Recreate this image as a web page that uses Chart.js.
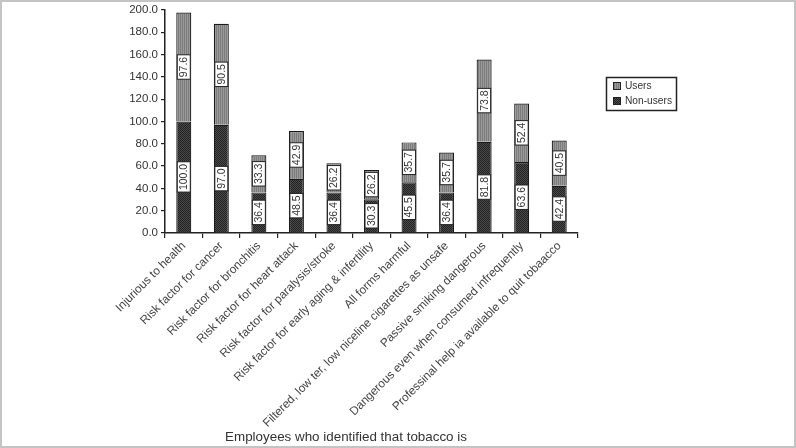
<!DOCTYPE html>
<html>
<head>
<meta charset="utf-8">
<script src="https://cdn.jsdelivr.net/npm/chart.js@4"></script>
<style>
  html, body { margin: 0; padding: 0; background: #fff; }
  #wrap { width: 796px; height: 448px; position: relative; }
</style>
</head>
<body>
<div id="wrap"><canvas id="chart" width="796" height="448"></canvas></div>
<script>
var categories = [
  'Injurious to health',
  'Risk factor for cancer',
  'Risk factor for bronchitis',
  'Risk factor for heart attack',
  'Risk factor for paralysis/stroke',
  'Risk factor for early aging & infertility',
  'All forms harmful',
  'Filtered, low ter, low niceline cigarettes as unsafe',
  'Passive smiking dangerous',
  'Dangerous even when consumed infrequently',
  'Professinal help ia available to quit tobaacco'
];
var nonUsers = [100.0, 97.0, 36.4, 48.5, 36.4, 30.3, 45.5, 36.4, 81.8, 63.6, 42.4];
var users = [97.6, 90.5, 33.3, 42.9, 26.2, 26.2, 35.7, 35.7, 73.8, 52.4, 40.5];
var titleText = 'Employees who identified that tobacco is';

function makePattern(type) {
  var c = document.createElement('canvas');
  c.width = 2; c.height = 2;
  var g = c.getContext('2d');
  if (type == 'users') {
    g.fillStyle = '#9a9a9a'; g.fillRect(0, 0, 2, 2);
    g.fillStyle = '#7c7c7c'; g.fillRect(0, 0, 1, 2);
  } else {
    g.fillStyle = '#4a4a4a'; g.fillRect(0, 0, 2, 2);
    g.fillStyle = '#222'; g.fillRect(0, 0, 1, 1); g.fillRect(1, 1, 1, 1);
  }
  return g.createPattern(c, 'repeat');
}
var usersFill = makePattern('users');
var nonUsersFill = makePattern('non');

// white boxed vertical value labels + legend + title + frame
var extras = {
  id: 'extras',
  afterDatasetsDraw: function(chart) {
    var ctx = chart.ctx;
    ctx.save();
    ctx.font = '10.5px Arial, "Liberation Sans", sans-serif';
    chart.data.datasets.forEach(function(ds, di) {
      var meta = chart.getDatasetMeta(di);
      meta.data.forEach(function(bar, i) {
        var txt = ds.data[i].toFixed(1);
        var cy = (bar.y + bar.base) / 2;
        var w = ctx.measureText(txt).width;
        ctx.save();
        ctx.translate(bar.x, cy);
        ctx.rotate(-Math.PI / 2);
        ctx.fillStyle = '#fff';
        ctx.strokeStyle = '#222';
        ctx.lineWidth = 1;
        ctx.fillRect(-w / 2 - 2, -6.5, w + 4, 13);
        ctx.strokeRect(-w / 2 - 2, -6.5, w + 4, 13);
        ctx.fillStyle = '#333';
        ctx.textAlign = 'center';
        ctx.textBaseline = 'middle';
        ctx.fillText(txt, 0, 0.5);
        ctx.restore();
      });
    });
    ctx.restore();
  },
  afterDraw: function(chart) {
    var ctx = chart.ctx;
    ctx.save();
    // legend
    ctx.strokeStyle = '#222';
    ctx.lineWidth = 1.5;
    ctx.strokeRect(606.5, 77.5, 70, 33);
    ctx.font = '10.2px Arial, "Liberation Sans", sans-serif';
    ctx.textBaseline = 'middle';
    var items = [['Users', usersFill, 86], ['Non-users', nonUsersFill, 101]];
    items.forEach(function(it) {
      ctx.fillStyle = it[1];
      ctx.fillRect(613, it[2] - 4, 8, 8);
      ctx.lineWidth = 1;
      ctx.strokeRect(613.5, it[2] - 3.5, 7, 7);
      ctx.fillStyle = '#333';
      ctx.fillText(it[0], 625, it[2]);
    });
    // title
    ctx.font = '13.4px Arial, "Liberation Sans", sans-serif';
    ctx.textAlign = 'center';
    ctx.fillStyle = '#333';
    ctx.fillText(titleText, 346, 437);
    // frame
    ctx.strokeStyle = '#c4c4c4';
    ctx.lineWidth = 2;
    ctx.strokeRect(1, 1, 794, 446);
    ctx.restore();
  }
};

new Chart(document.getElementById('chart'), {
  type: 'bar',
  data: {
    labels: categories,
    datasets: [{
      label: 'Non-users',
      data: nonUsers,
      backgroundColor: nonUsersFill,
      borderColor: '#1a1a1a',
      borderWidth: 1.2
    }, {
      label: 'Users',
      data: users,
      backgroundColor: usersFill,
      borderColor: '#1a1a1a',
      borderWidth: 1.2
    }]
  },
  options: {
    responsive: false,
    animation: false,
    layout: { padding: { top: 7, right: 218, bottom: 0, left: 0 } },
    datasets: { bar: { categoryPercentage: 1.0, barPercentage: 0.4 } },
    plugins: { legend: { display: false }, tooltip: { enabled: false } },
    scales: {
      x: {
        stacked: true,
        afterFit: function(scale) { scale.height = 215; },
        border: { color: '#222', width: 1.5 },
        grid: { drawOnChartArea: false, drawTicks: true, tickLength: 5, color: '#222', lineWidth: 1.2 },
        ticks: {
          autoSkip: false, minRotation: 45, maxRotation: 45, padding: 1,
          color: '#444', font: { family: 'Arial, "Liberation Sans", sans-serif', size: 11.8 }
        }
      },
      y: {
        stacked: true,
        min: 0, max: 200,
        afterFit: function(scale) { scale.width = 165; },
        border: { color: '#222', width: 1.5 },
        grid: { drawOnChartArea: false, drawTicks: true, tickLength: 4, color: '#222', lineWidth: 1.2 },
        ticks: {
          stepSize: 20, padding: 3, color: '#333',
          font: { family: 'Arial, "Liberation Sans", sans-serif', size: 11.5 },
          callback: function(v) { return v.toFixed(1); }
        }
      }
    }
  },
  plugins: [extras]
});
</script>
</body>
</html>
